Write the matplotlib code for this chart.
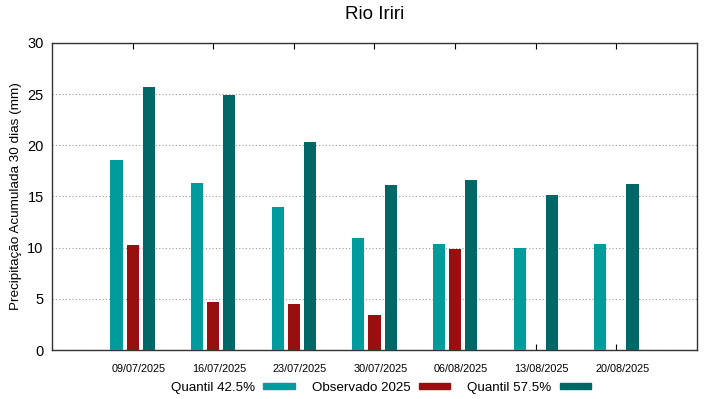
import numpy as np
import matplotlib
matplotlib.use("Agg")
import matplotlib.pyplot as plt
from matplotlib.patches import Patch

plt.rcParams['font.family'] = ['Liberation Sans', 'DejaVu Sans']

# data
dates = ["09/07/2025", "16/07/2025", "23/07/2025", "30/07/2025",
         "06/08/2025", "13/08/2025", "20/08/2025"]
q425 = [18.6, 16.3, 14.0, 10.9, 10.4, 10.0, 10.4]
obs2025 = [10.3, 4.7, 4.5, 3.4, 9.9, np.nan, np.nan]
q575 = [25.7, 24.9, 20.3, 16.1, 16.6, 15.1, 16.2]

c_q425 = "#009b9b"
c_obs = "#970f0f"
c_q575 = "#006767"

fig = plt.figure(figsize=(7.19, 3.99), dpi=100)
ax = fig.add_axes([0.0723, 0.1228, 0.8971, 0.7695])

x = np.arange(len(dates))
w = 0.15
off = 0.2
ax.bar(x - off, q425, w, color=c_q425, zorder=3)
ax.bar(x, obs2025, w, color=c_obs, zorder=3)
ax.bar(x + off, q575, w, color=c_q575, zorder=3)

ax.set_xlim(-1.0, 7.0)
ax.set_ylim(0, 30)
ax.set_yticks(range(0, 31, 5))
# major ticks mark the categories, labels sit a bit to the right (gnuplot style)
ax.set_xticks(x)
ax.set_xticklabels([])
ax.set_xticks(x + 0.075, minor=True)
ax.set_xticklabels(dates, minor=True, fontsize=7.8)
ax.tick_params(axis='x', which='major', direction='in', top=True, length=4)
ax.tick_params(axis='x', which='minor', length=0, pad=10)
ax.tick_params(axis='y', direction='in', length=0, labelsize=10.5, pad=6)
ax.yaxis.grid(True, linestyle=(0, (1, 2)), color='#999999', linewidth=0.8, zorder=0)
for s in ax.spines.values():
    s.set_linewidth(1.0)
    s.set_color('#333333')

ax.set_ylabel("Precipitação Acumulada 30 dias (mm)", fontsize=9.7, labelpad=4)
ax.set_title("Rio Iriri", fontsize=13.5, pad=17)

handles = [Patch(color=c_q425), Patch(color=c_obs), Patch(color=c_q575)]
labels = ["Quantil 42.5%", "Observado 2025", "Quantil 57.5%"]
fig.legend(handles, labels, loc='center', bbox_to_anchor=(0.53, 0.028),
           ncol=3, frameon=False, markerfirst=False, fontsize=9.6,
           handlelength=2.35, handleheight=0.4, columnspacing=1.3,
           handletextpad=0.6)

fig.savefig("out.png", dpi=100)
